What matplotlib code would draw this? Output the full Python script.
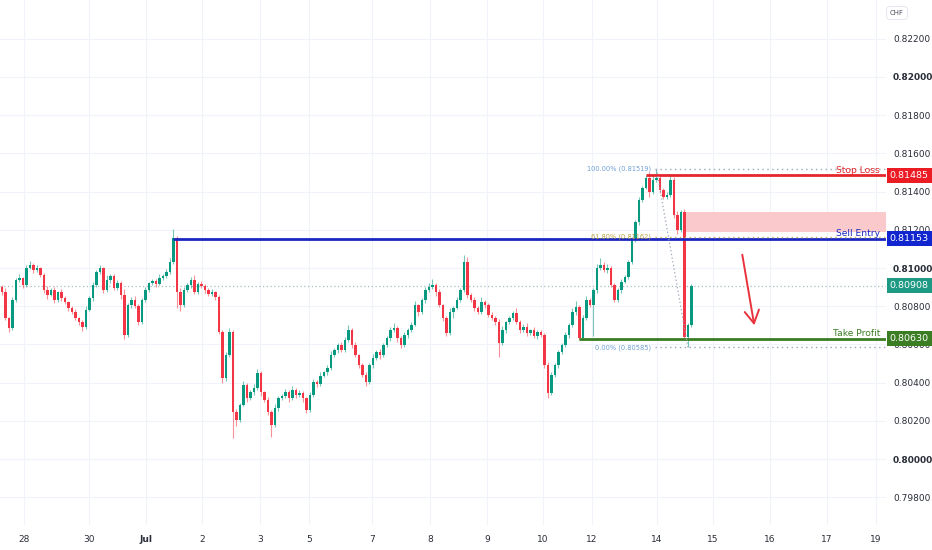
import matplotlib
matplotlib.use("Agg")
import matplotlib.pyplot as plt
import matplotlib.transforms as mtrans
import numpy as np

# closes in 1e-5 units, open = previous close
first_open = 80900
closes = [
    80874, 80738, 80686, 80832, 80937, 80948, 80911, 81000, 81016, 80990,
    81000, 80963, 80885, 80859, 80885, 80832, 80874, 80843, 80822, 80791,
    80770, 80738, 80717, 80691, 80780, 80843, 80911, 80979, 81000, 80885,
    80937, 80958, 80895, 80921, 80859, 80649, 80806, 80832, 80801, 80717,
    80832, 80885, 80921, 80932, 80916, 80948, 80958, 80979, 81031, 81157,
    80874, 80806, 80885, 80911, 80937, 80874, 80916, 80906, 80885, 80864,
    80874, 80848, 80665, 80424, 80544, 80665, 80246, 80204, 80283, 80387,
    80319, 80351, 80372, 80450, 80351, 80309, 80246, 80178, 80267, 80319,
    80330, 80351, 80319, 80361, 80335, 80345, 80319, 80256, 80335, 80403,
    80393, 80435, 80455, 80476, 80544, 80571, 80597, 80571, 80623, 80675,
    80597, 80544, 80492, 80440, 80403, 80492, 80529, 80560, 80544, 80597,
    80633, 80675, 80686, 80633, 80597, 80649, 80675, 80702, 80806, 80770,
    80832, 80885, 80901, 80911, 80874, 80806, 80738, 80660, 80770, 80791,
    80832, 80885, 81031, 80859, 80832, 80791, 80770, 80822, 80806, 80754,
    80738, 80717, 80607, 80675, 80717, 80738, 80764, 80717, 80675, 80691,
    80660, 80675, 80644, 80665, 80649, 80492, 80345, 80440, 80492, 80560,
    80597, 80649, 80702, 80770, 80796, 80633, 80738, 80832, 80806, 80885,
    81000, 81016, 80990, 81000, 80911, 80832, 80885, 80927, 80953, 81031,
    81147, 81241, 81356, 81419, 81471, 81398, 81461, 81471, 81408, 81372,
    81382, 81461, 81278, 81199, 81293, 80639, 80702, 80908,
]
upper_wick = [
    12, 20, 8, 15, 10, 18, 6, 14, 22, 9,
    16, 7, 11, 19, 8, 13, 6, 17, 10, 5,
    9, 14, 7, 12, 20, 8, 15, 11, 18, 6,
    24, 10, 8, 16, 12, 30, 9, 14, 20, 8,
    11, 16, 7, 13, 9, 18, 10, 15, 22, 45,
    12, 20, 14, 8, 17, 26, 10, 18, 9, 12,
    15, 8, 10, 12, 18, 22, 10, 16, 9, 24,
    12, 8, 19, 20, 11, 7, 14, 9, 21, 13,
    8, 16, 10, 22, 9, 15, 12, 7, 18, 14,
    10, 20, 8, 16, 22, 12, 9, 18, 15, 26,
    10, 14, 8, 12, 18, 9, 20, 11, 15, 8,
    13, 17, 24, 9, 12, 16, 10, 14, 19, 8,
    12, 18, 22, 30, 10, 14, 8, 12, 20, 11,
    16, 9, 37, 24, 10, 14, 8, 26, 12, 9,
    15, 10, 18, 22, 8, 13, 11, 28, 10, 15,
    20, 8, 14, 12, 9, 11, 15, 18, 10, 13,
    9, 16, 12, 18, 30, 10, 14, 20, 12, 8,
    22, 36, 15, 20, 10, 12, 9, 14, 10, 12,
    15, 10, 14, 12, 18, 30, 20, 48, 12, 10,
    15, 30, 16, 20, 12, 18, 10, 8,
]
lower_wick = [
    14, 10, 22, 9, 12, 8, 16, 10, 7, 18,
    12, 9, 15, 20, 8, 13, 10, 14, 9, 17,
    12, 8, 15, 20, 10, 7, 14, 9, 12, 18,
    10, 15, 8, 12, 20, 22, 10, 14, 9, 18,
    10, 8, 13, 9, 15, 7, 11, 9, 8, 10,
    83, 30, 12, 9, 14, 10, 8, 13, 16, 9,
    12, 15, 10, 25, 14, 9, 136, 30, 12, 8,
    18, 10, 14, 9, 20, 12, 16, 63, 10, 15,
    12, 9, 18, 10, 14, 8, 20, 15, 12, 9,
    14, 10, 8, 16, 12, 10, 18, 9, 13, 8,
    16, 10, 14, 12, 20, 9, 13, 10, 22, 8,
    12, 15, 9, 18, 14, 10, 16, 12, 8, 20,
    10, 14, 9, 12, 18, 10, 15, 14, 10, 30,
    8, 12, 10, 16, 9, 14, 12, 10, 18, 9,
    12, 15, 73, 10, 14, 9, 12, 10, 16, 8,
    14, 11, 10, 15, 12, 18, 26, 12, 10, 14,
    12, 9, 16, 10, 14, 8, 12, 10, 12, 160,
    14, 12, 10, 16, 9, 12, 10, 14, 8, 10,
    12, 9, 14, 10, 8, 26, 12, 10, 14, 9,
    12, 10, 15, 20, 10, 18, 54, 12,
]

day_ticks = [6.3, 24.9, 41.1, 57.1, 73.7, 87.7, 105.7, 122.3, 138.6,
             154.6, 168.6, 187.1, 203.1, 219.4, 235.7, 249.7]
day_labels = ['28', '30', 'Jul', '2', '3', '5', '7', '8', '9',
              '10', '12', '14', '15', '16', '17', '19']

price_ticks = [0.798, 0.800, 0.802, 0.804, 0.806, 0.808, 0.810,
               0.812, 0.814, 0.816, 0.818, 0.820, 0.822]

stop_loss = 0.81485
sell_entry = 0.81153
take_profit = 0.80630
last_price = 0.80908
zone_lo, zone_hi = 0.81188, 0.81293
fib_hi, fib_lo = 0.81519, 0.80585
fib_levels = [1.0, 0.618, 0.0]

GREEN = "#089981"
RED = "#f23645"

fig = plt.figure(figsize=(9.32, 5.5), dpi=100)
ax = fig.add_axes([0, 25 / 550, 886 / 932, 525 / 550])
ax.set_xlim(-0.57, 252.6)
ax.set_ylim(0.796545, 0.824031)

# candles
c = np.array(closes) / 1e5
o = np.concatenate([[first_open / 1e5], c[:-1]])
h = np.maximum(o, c) + np.array(upper_wick) / 1e5
l = np.minimum(o, c) - np.array(lower_wick) / 1e5
idx = np.arange(len(c))
cols = np.where(c >= o, GREEN, RED)
ax.vlines(idx, l, h, colors=cols, lw=0.8, alpha=0.55, zorder=3)
body = np.maximum(np.abs(c - o), 0.00002)
ax.bar(idx, body, bottom=np.minimum(o, c), width=0.7, color=cols,
       linewidth=0, zorder=4)

# grid
for p in price_ticks:
    ax.axhline(p, color="#f0f3fa", lw=0.8, zorder=0)
for d in day_ticks:
    ax.axvline(d, color="#f0f3fa", lw=0.8, zorder=0)

# last price dotted line
ax.axhline(last_price, color="#a8bcbc", lw=0.9, ls=(0, (1, 2)), zorder=2)

xr = 252.6
# sell zone
ax.fill_between([194.6, xr], zone_lo, zone_hi, color="#f9c9cb", lw=0, zorder=2)

# levels
ax.hlines(sell_entry, 49, xr, color="#1a27c2", lw=2, zorder=5)
ax.hlines(stop_loss, 184, xr, color="#e5262c", lw=2, zorder=5)
ax.hlines(take_profit, 165, xr, color="#3b7d23", lw=2, zorder=5)

# fib retracement
fib_cols = ["#6f9fd3", "#b9a13e", "#6f9fd3"]
for lvl, fc in zip(fib_levels, fib_cols):
    p = fib_lo + lvl * (fib_hi - fib_lo)
    ax.hlines(p, 186.6, xr, color="#9aa6b6" if lvl != 0.618 else "#c8ad55",
              lw=1, ls=(0, (1, 2.5)), zorder=5)
    ax.text(185.5, p, f"{lvl * 100:.2f}% ({p:.5f})", color=fc, fontsize=4.8,
            ha="right", va="center", zorder=6)
ax.plot([187, 196], [fib_hi, fib_lo], color="#9aa6b6", lw=0.9,
        ls=(0, (1, 2)), zorder=5)

# level captions
ax.text(250.9, stop_loss + 0.00004, "Stop Loss", color="#e5262c",
        fontsize=6.6, ha="right", va="bottom", zorder=7)
ax.text(250.9, sell_entry + 0.00006, "Sell Entry", color="#1a27c2",
        fontsize=6.6, ha="right", va="bottom", zorder=7)
ax.text(250.9, take_profit + 0.00006, "Take Profit", color="#3b7d23",
        fontsize=6.6, ha="right", va="bottom", zorder=7)

# arrow
ax.annotate("", xy=(215.1, 0.80686), xytext=(211.4, 0.81084),
            arrowprops=dict(arrowstyle="->,head_length=0.7,head_width=0.4",
                            color="#e8323c", lw=1.4, mutation_scale=13),
            zorder=6)

# axes styling
for s in ax.spines.values():
    s.set_visible(False)
ax.yaxis.tick_right()
ax.set_yticks(price_ticks)
ax.set_yticklabels([f"{p:.5f}" for p in price_ticks])
ax.tick_params(axis="y", length=0, pad=5, labelsize=6.5, labelcolor="#2a2e39")
for lab, p in zip(ax.get_yticklabels(), price_ticks):
    if round(p * 1000) % 10 == 0:
        lab.set_fontweight("bold")
ax.set_xticks(day_ticks)
ax.set_xticklabels(day_labels)
ax.tick_params(axis="x", length=0, pad=7, labelsize=6.5, labelcolor="#2a2e39")
for lab in ax.get_xticklabels():
    if lab.get_text() == "Jul":
        lab.set_fontweight("bold")

# price boxes on the axis
trans = mtrans.blended_transform_factory(ax.transAxes, ax.transData)
for p, col in [(stop_loss, "#ec1c24"), (sell_entry, "#1126cf"),
               (last_price, "#1e9a84"), (take_profit, "#3b7d23")]:
    ax.text(1.004, p, f"{p:.5f}", transform=trans, color="white",
            fontsize=6.8, ha="left", va="center", clip_on=False, zorder=10,
            bbox=dict(boxstyle="square,pad=0.32", fc=col, ec="none"))

fig.text(897 / 932, 1 - 13 / 550, "CHF", fontsize=5, color="#50535e",
         ha="center", va="center",
         bbox=dict(boxstyle="round,pad=0.5", fc="white", ec="#e0e3eb", lw=0.6))

fig.savefig("out.png", dpi=100)
